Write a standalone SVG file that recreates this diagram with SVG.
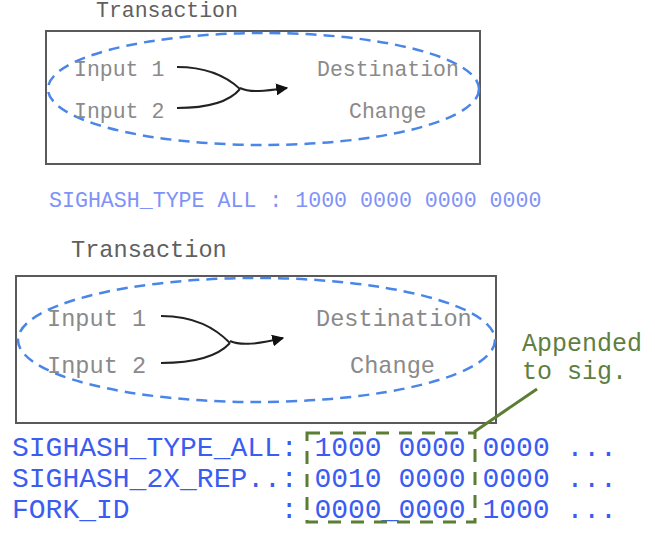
<svg xmlns="http://www.w3.org/2000/svg" width="655" height="534" viewBox="0 0 655 534">
<defs>
<style>
.mono{font-family:"Liberation Mono","Courier New",monospace}
.title{fill:#606060}
.lbl{fill:#8a8a8a}
.box{fill:none;stroke:#5a5a5a;stroke-width:2}
.ell{fill:none;stroke:#4a86e8;stroke-width:2.5;stroke-dasharray:11 7}
.flow{fill:none;stroke:#222;stroke-width:2}
.code{fill:#3a5cf2;font-size:28px}
.code2{fill:#7f92f8;font-size:21.6px}
.grn{fill:none;stroke:#5b7d34;stroke-width:3}
</style>
<marker id="ah" viewBox="0 0 10 10" refX="9" refY="5" markerWidth="6" markerHeight="6" orient="auto" markerUnits="strokeWidth">
<path d="M0,0 L10,5 L0,10 Z" fill="#111"/>
</marker>
</defs>
<g id="tx1">
<text class="mono title" x="96" y="16.5" font-size="21.5">Transaction</text>
<rect class="box" x="46" y="31" width="434" height="133"/>
<ellipse class="ell" cx="263.5" cy="89" rx="215.5" ry="56"/>
<text class="mono lbl" x="74" y="76" font-size="21.5">Input 1</text>
<text class="mono lbl" x="74" y="118" font-size="21.5">Input 2</text>
<text class="mono lbl" x="317" y="76" font-size="21.5">Destination</text>
<text class="mono lbl" x="349" y="118" font-size="21.5">Change</text>
</g>
<g id="sig1">
<text class="mono code2" x="49" y="207">SIGHASH_TYPE ALL : 1000 0000 0000 0000</text>
</g>
<g id="tx2">
<text class="mono title" x="71" y="257" font-size="23.6">Transaction</text>
<rect class="box" x="16" y="276" width="480" height="147"/>
<ellipse class="ell" cx="256.5" cy="340" rx="238.5" ry="62"/>
<text class="mono lbl" x="47" y="326" font-size="23.6">Input 1</text>
<text class="mono lbl" x="47" y="373" font-size="23.6">Input 2</text>
<text class="mono lbl" x="316" y="326" font-size="23.6">Destination</text>
<text class="mono lbl" x="350" y="373" font-size="23.6">Change</text>
</g>
<g id="rows">
<text class="mono code" x="12" y="456">SIGHASH_TYPE_ALL: 1000 0000 0000 ...</text>
<text class="mono code" x="12" y="487">SIGHASH_2X_REP..: 0010 0000 0000 ...</text>
<text class="mono code" x="12" y="518">FORK_ID<tspan x="280.8">: 0000_0000 1000 ...</tspan></text>
</g>
<g id="note">
<rect x="307" y="433" width="168" height="89" fill="none" stroke="#5b7d34" stroke-width="3" stroke-dasharray="13 10"/>
<text class="mono" x="522" y="351" font-size="25" fill="#5f7f42">Appended</text>
<text class="mono" x="522" y="379" font-size="25" fill="#5f7f42">to sig.</text>
</g>
<g id="connectors">
<path class="flow" d="M177,67 C205,67 225,75 240,89"/>
<path class="flow" d="M177,108 C210,108 230,101 240,89"/>
<path class="flow" d="M240,88 C250,93 265,91 287,88" marker-end="url(#ah)"/>
<path class="flow" d="M161,316 C195,316 215,328 230,343"/>
<path class="flow" d="M161,363 C195,363 218,356 230,343"/>
<path class="flow" d="M230,341 C241,346 258,344 283,338" marker-end="url(#ah)"/>
<line class="grn" x1="537" y1="389" x2="474" y2="432"/>
</g>
</svg>
